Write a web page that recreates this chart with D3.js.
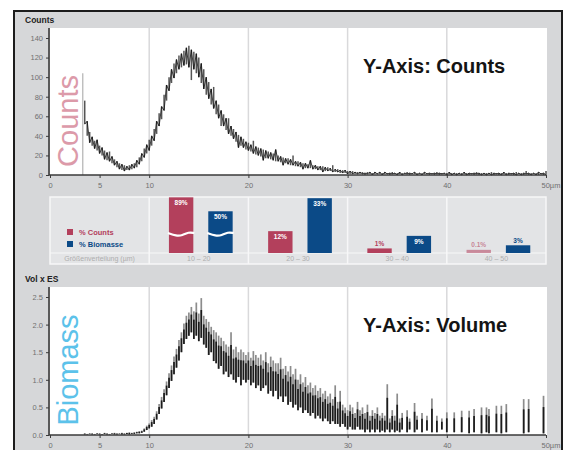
<!DOCTYPE html>
<html>
<head>
<meta charset="utf-8">
<script src="https://cdn.jsdelivr.net/npm/d3@7"></script>
<style>
  html, body { margin: 0; padding: 0; background: #fff; }
  svg { display: block; font-family: "Liberation Sans", Arial, sans-serif; }
</style>
</head>
<body>
<svg id="chart" width="571" height="450"></svg>
<script>
// Particle size channels (µm): first channel centre and channel width
const binStart = 3.5;
const binStep = 0.25;

// Counts per channel, drawn as min/max range per channel
const countsLow = [
  52,40,33,30,27,25,22,20,16,15, 14,12,10,8,6,5,4,5,5,6,
  7,8,11,14,18,22,25,30,35,42, 50,57,66,76,86,94,99,104,108,110,
  112,113,110,97,108,104,100,94,88,82, 78,72,68,62,58,50,50,46,42,40,
  37,34,28,30,28,26,25,24,22,21, 20,19,15,17,17,16,15,14,14,13,
  10,12,11,10,10,9,9,8,6,7, 7,7,6,6,5,5,3,4,4,4,
  3,3,3,2,2,2,1,1,1,1, 1,
  1,1,0,1,1,0,1,1,1,0, 1,1,0,1,1,0,1,0,1,1,
  0,1,1,0,1,0,1,1,0,1, 0,1,0,1,1,0,1,0,1,0,
  1,0,1,0,0,1,0,1,0,0, 1,0,1,0,0,1,0,0,1,0,
  0,1,0,0,1,0,0,1,0,0, 1,0,0,1,0,0
];
const countsHigh = [
  76,55,44,39,35,36,30,28,25,23, 24,19,16,14,12,11,10,9,10,11,
  12,15,18,22,27,31,36,40,47,55, 63,70,82,92,100,108,114,118,122,124,
  127,130,132,128,126,124,120,114,108,100, 95,88,90,76,72,66,62,58,58,50,
  47,44,41,39,37,34,33,31,35,29, 28,27,26,25,24,23,22,26,20,19,
  18,17,17,16,20,14,14,13,12,12, 11,15,10,10,9,9,9,8,8,7,
  10,6,6,5,5,5,4,4,4,3, 3,
  3,3,2,3,3,2,3,2,3,2, 3,2,2,3,2,2,3,2,2,3,
  2,2,3,2,2,2,3,2,2,2, 2,3,2,2,2,2,3,2,2,2,
  2,2,3,2,2,2,2,3,2,2, 2,2,2,3,2,2,2,2,3,2,
  2,2,2,3,2,2,2,4,2,2, 2,2,3,2,2,4
];
// Lower size limit marker of the counting channel range
const countsEdge = { size: 3.3, value: 104 };

// Volume x ES per channel (biomass), min/max range; null = empty channel
const volLow = [
  0.01,0.01,0.02,0.01,0.01,0.02,0.01,0.01,0.02,0.01, 0.01,0.02,0.01,0.01,0.02,0.01,0.01,0.02,0.01,0.02,
  0.02,0.03,0.03,0.04,0.06,0.09,0.12,0.15,0.2,0.28, 0.38,0.48,0.6,0.72,0.85,0.98,1.1,1.22,1.35,1.5,
  1.65,1.74,1.8,1.86,1.74,1.8,1.7,1.76,1.64,1.58, 1.45,1.5,1.34,1.3,1.2,1.25,1.1,1.15,1.05,1.1,
  1.0,0.95,1.05,0.9,1.0,0.95,1.0,0.9,0.95,0.85, 0.9,0.8,0.85,0.9,0.75,0.8,0.7,0.8,0.65,0.7,
  0.6,0.7,0.55,0.6,0.5,0.55,0.45,0.5,0.4,0.45, 0.4,0.35,0.4,0.3,0.35,0.3,0.25,0.3,0.25,0.2,
  0.25,0.2,0.2,0.15,0.2,0.15,0.1,0.15,0.1,0.1, 0.15,0.1,0.1,0.05,0.1,0.05,0.1,0.05,0.1,0.05,
  0.08,0.05,0.1,0.05,0.1,0.05,0.08,0.05,0.1,null, 0.05,0.1,null,0.05,0.1,null,0.05,null,0.08,null,
  0.05,null,0.05,null,0.1,null,0.05,null,null,0.05, null,null,0.05,null,null,0.03,null,0.05,null,null,
  0.03,null,0.05,0.03,null,null,0.05,null,0.03,null, 0.05,null,null,null,null,null,null,0.03,null,0.05,
  null,null,null,null,null,0.03,null
];
const volHigh = [
  0.03,0.02,0.03,0.03,0.02,0.03,0.03,0.02,0.04,0.03, 0.02,0.03,0.04,0.03,0.03,0.04,0.03,0.04,0.05,0.04,
  0.05,0.06,0.07,0.08,0.12,0.17,0.21,0.27,0.33,0.43, 0.56,0.69,0.83,0.97,1.12,1.26,1.42,1.56,1.72,1.86,
  2.02,2.16,2.22,2.32,2.24,2.4,2.2,2.48,2.16,2.1, 2.05,1.96,1.9,1.86,1.8,1.76,1.7,1.64,1.6,1.86,
  1.55,1.6,1.5,1.55,1.5,1.45,1.5,1.4,1.52,1.45, 1.4,1.46,1.35,1.5,1.3,1.42,1.35,1.3,1.3,1.4,
  1.2,1.25,1.15,1.25,1.1,1.2,1.0,1.1,0.95,1.05, 0.9,0.95,0.85,0.9,0.8,0.85,0.75,0.8,0.7,0.75,
  0.65,0.9,0.6,0.8,0.55,0.5,0.45,0.55,0.5,0.4, 0.6,0.45,0.5,0.4,0.55,0.35,0.45,0.4,0.5,0.35,
  0.4,0.35,0.92,0.3,0.45,0.35,0.75,0.3,0.4,null, 0.45,0.3,null,0.58,0.35,null,0.4,null,0.35,null,
  0.66,null,0.35,null,0.3,null,0.41,null,null,0.41, null,null,0.44,null,null,0.44,null,0.47,null,null,
  0.5,null,0.5,0.47,null,null,0.53,null,0.53,null, 0.56,null,null,null,null,null,null,0.65,null,0.65,
  null,null,null,null,null,0.71,null
];

const xTicks = [0, 5, 10, 20, 30, 40, 50];
const countTicks = [0, 20, 40, 60, 80, 100, 120, 140];
const volTicks = [0, 0.5, 1.0, 1.5, 2.0, 2.5];

// Size classes with share of counts and of biomass (%)
const classLabels = ["10 – 20", "20 – 30", "30 – 40", "40 – 50"];
const classFrom = [10, 20, 30, 40];
const classTo = [20, 30, 40, 50];
const pctCounts = [89, 12, 1, 0.1];
const pctBiomass = [50, 33, 9, 3];
const pctSeries = ["% Counts", "% Biomasse"];

const RED = "#b3405c";
const BLUE = "#0b4a87";

const svg = d3.select("#chart");

// ---- frame
svg.append("rect").attr("x", 14).attr("y", 11).attr("width", 548).attr("height", 470)
  .attr("fill", "#d6d7d9").attr("stroke", "#1c1c1c").attr("stroke-width", 2);

const x = d3.scaleLinear().domain([0, 50]).range([50, 546]);

const countsData = countsLow.map((lo, i) => ({ size: binStart + i * binStep, lo, hi: countsHigh[i] }));
const volData = volLow.map((lo, i) => ({ size: binStart + i * binStep, lo, hi: volHigh[i] }))
  .filter(d => d.lo != null && d.hi != null);

function drawPanel(opts) {
  const g = svg.append("g");
  // plot area
  g.append("rect").attr("x", 50).attr("y", opts.top).attr("width", 497).attr("height", opts.bottom - opts.top)
    .attr("fill", "#fff");
  // vertical grid lines
  g.selectAll("line.grid").data([10, 20, 30, 40]).join("line")
    .attr("class", "grid")
    .attr("x1", d => x(d)).attr("x2", d => x(d))
    .attr("y1", opts.top).attr("y2", opts.bottom)
    .attr("stroke", "#d9d9db").attr("stroke-width", 1.5);
  // panel heading
  g.append("text").attr("x", 25).attr("y", opts.top - 5)
    .attr("font-size", 8.5).attr("font-weight", "bold").attr("fill", "#222").text(opts.heading);
  // big rotated word
  g.append("text")
    .attr("transform", `translate(${opts.wordX},${opts.wordY}) rotate(-90)`)
    .attr("text-anchor", "middle").attr("font-size", 29)
    .attr("fill", opts.wordColor).text(opts.word);
  // caption
  g.append("text").attr("x", 363).attr("y", opts.captionY)
    .attr("font-size", 20).attr("font-weight", "bold").attr("fill", "#141414")
    .text(opts.caption);
  return g;
}

function styleAxis(sel) {
  sel.selectAll(".domain").attr("stroke", "#3a3a3a").attr("stroke-width", 1.6);
  sel.selectAll(".tick line").attr("stroke", "#3a3a3a").attr("stroke-width", 1);
  sel.selectAll(".tick text").attr("fill", "#707070").attr("font-size", 7.5)
    .attr("font-family", "'Liberation Sans', Arial, sans-serif");
}

function drawAxes(g, y, ticks, fmt, base) {
  const ax = g.append("g").attr("transform", `translate(0,${base})`)
    .call(d3.axisBottom(x).tickValues(xTicks).tickSize(3).tickSizeOuter(0).tickPadding(5)
      .tickFormat(d => d === 50 ? "50µm" : d));
  styleAxis(ax);
  ax.selectAll(".tick text").filter(d => d === 50).attr("text-anchor", "start").attr("dx", -5);
  ax.select(".domain").attr("d", `M${x(0) - 1},0H${x(50)}`);
  const ay = g.append("g").attr("transform", `translate(49,0)`)
    .call(d3.axisLeft(y).tickValues(ticks).tickSize(3).tickSizeOuter(0).tickPadding(3).tickFormat(fmt));
  styleAxis(ay);
  ay.select(".domain").attr("d", `M0,${y.range()[1] - 10}V${base}`);
}

// ---- upper panel: counts
const yCounts = d3.scaleLinear().domain([0, 140]).range([175, 38]);
const countsPanel = drawPanel({
  top: 28, bottom: 175, heading: "Counts",
  word: "Counts", wordColor: "#dc9aa9", wordX: 78, wordY: 121,
  caption: "Y-Axis: Counts", captionY: 73
});
countsPanel.append("line")
  .attr("x1", x(countsEdge.size)).attr("x2", x(countsEdge.size))
  .attr("y1", yCounts(countsEdge.value)).attr("y2", yCounts(0))
  .attr("stroke", "#bdbdbd").attr("stroke-width", 1.4);
countsPanel.append("g").selectAll("line").data(countsData).join("line")
  .attr("x1", d => x(d.size)).attr("x2", d => x(d.size))
  .attr("y1", d => yCounts(d.lo)).attr("y2", d => yCounts(d.hi))
  .attr("stroke", "#2a2a2a").attr("stroke-opacity", 0.8).attr("stroke-width", 1.5);
countsPanel.append("path")
  .datum(countsData)
  .attr("fill", "none").attr("stroke", "#111").attr("stroke-width", 0.8)
  .attr("d", d3.line().x(d => x(d.size)).y((d, i) => yCounts(i % 2 ? d.hi : d.lo)));
drawAxes(countsPanel, yCounts, countTicks, d3.format("d"), 175);

// ---- lower panel: volume
const yVol = d3.scaleLinear().domain([0, 2.5]).range([435, 297]);
const volPanel = drawPanel({
  top: 287, bottom: 435, heading: "Vol x ES",
  word: "Biomass", wordColor: "#5cc2ea", wordX: 78, wordY: 370,
  caption: "Y-Axis: Volume", captionY: 332
});
const volBars = volPanel.append("g").selectAll("g").data(volData).join("g");
volBars.append("line")
  .attr("x1", d => x(d.size)).attr("x2", d => x(d.size))
  .attr("y1", d => yVol(d.lo)).attr("y2", d => yVol(d.hi))
  .attr("stroke", "#8c8c8c").attr("stroke-width", 1.7);
volBars.append("line")
  .attr("x1", d => x(d.size)).attr("x2", d => x(d.size))
  .attr("y1", d => yVol(d.lo)).attr("y2", d => yVol(d.lo + (d.hi - d.lo) * 0.7))
  .attr("stroke", "#1c1c1c").attr("stroke-width", 1.7);
drawAxes(volPanel, yVol, volTicks, d3.format(".1f"), 435);

// ---- middle: share per size class
const midTop = 197, rowBase = 253, midBottom = 264;
const mid = svg.append("g");
mid.append("rect").attr("x", x(0)).attr("y", midTop).attr("width", x(50) - x(0)).attr("height", midBottom - midTop)
  .attr("fill", "#e3e4e6").attr("stroke", "#f7f7f8").attr("stroke-width", 1.5);
mid.append("line").attr("x1", x(0)).attr("x2", x(50)).attr("y1", rowBase).attr("y2", rowBase)
  .attr("stroke", "#f7f7f8").attr("stroke-width", 1.2);
mid.selectAll("line.sep").data(classFrom).join("line").attr("class", "sep")
  .attr("x1", d => x(d)).attr("x2", d => x(d)).attr("y1", midTop).attr("y2", midBottom)
  .attr("stroke", "#f7f7f8").attr("stroke-width", 1.5);

const narrow = "'Liberation Sans Narrow', 'Liberation Sans', Arial, sans-serif";
mid.append("text").attr("x", x(5)).attr("y", 261).attr("text-anchor", "middle")
  .attr("font-size", 7).attr("font-family", narrow).attr("fill", "#aeaeae").text("Größenverteilung (µm)");
mid.selectAll("text.cls").data(classLabels).join("text").attr("class", "cls")
  .attr("x", (d, i) => (x(classFrom[i]) + x(classTo[i])) / 2).attr("y", 261)
  .attr("text-anchor", "middle").attr("font-size", 7).attr("font-family", narrow)
  .attr("fill", "#aeaeae").text(d => d);

// legend
const legColors = [RED, BLUE];
pctSeries.forEach((name, i) => {
  const ly = 229 + i * 12;
  mid.append("rect").attr("x", 67).attr("y", ly).attr("width", 6).attr("height", 6).attr("fill", legColors[i]);
  mid.append("text").attr("x", 79).attr("y", ly + 6).attr("font-size", 7.5).attr("font-family", narrow)
    .attr("font-weight", "bold").attr("fill", legColors[i]).text(name);
});

// bars: linear percent scale, tall shares shown broken on a compressed scale
const pctY = d3.scaleLinear().domain([0, 100]).range([rowBase - 3, rowBase - 3 - 157]);
const brokenH = d3.scaleSqrt().domain([0, 100]).range([0, 59]);
const breakLimit = 40;
const band = d3.scaleBand().domain([0, 1]).paddingInner(0.38).paddingOuter(0.4);
const fmtPct = v => (v < 1 ? d3.format(".1f")(v) : d3.format("d")(v)) + "%";

classLabels.forEach((c, ci) => {
  band.range([x(classFrom[ci]) + 4, x(classTo[ci])]);
  [pctCounts[ci], pctBiomass[ci]].forEach((v, si) => {
    const bx = band(si), bw = band.bandwidth();
    const broken = v > breakLimit;
    const topY = broken ? rowBase - brokenH(v) : pctY(v);
    const color = legColors[si];
    mid.append("rect").attr("x", bx).attr("y", topY).attr("width", bw).attr("height", rowBase - topY)
      .attr("fill", color).attr("fill-opacity", v < 0.5 ? 0.55 : 1);
    if (broken) {
      const yb = rowBase - 19;
      const pts = [[bx - 1, yb - 1], [bx + bw * 0.3, yb + 2], [bx + bw * 0.55, yb + 1.5], [bx + bw * 0.8, yb - 2], [bx + bw + 1, yb - 1]];
      mid.append("path").attr("d", d3.line().curve(d3.curveBasis)(pts))
        .attr("fill", "none").attr("stroke", "#ffffff").attr("stroke-width", 2.2);
    }
    const inside = rowBase - topY > 16;
    mid.append("text").attr("x", bx + bw / 2).attr("y", inside ? topY + 8 : topY - 2.5)
      .attr("text-anchor", "middle").attr("font-size", 6.5).attr("font-weight", "bold")
      .attr("font-family", narrow).attr("fill", inside ? "#fff" : color)
      .attr("fill-opacity", v < 0.5 ? 0.6 : 1).text(fmtPct(v));
  });
});
</script>
</body>
</html>
